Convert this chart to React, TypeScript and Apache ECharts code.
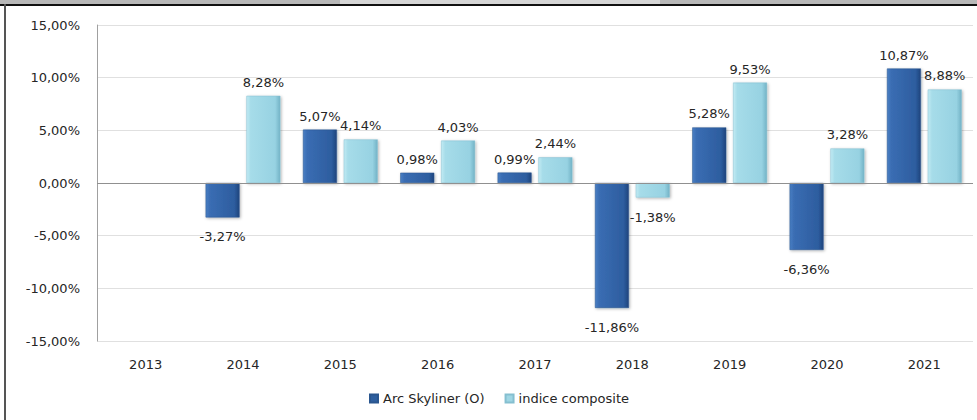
import React, { useEffect, useRef } from "react";
import * as echarts from "echarts";

const categories = ["2013", "2014", "2015", "2016", "2017", "2018", "2019", "2020", "2021"];
const arcSkyliner = [null, -3.27, 5.07, 0.98, 0.99, -11.86, 5.28, -6.36, 10.87];
const indiceComposite = [null, 8.28, 4.14, 4.03, 2.44, -1.38, 9.53, 3.28, 8.88];
const seriesNames = ["Arc Skyliner (O)", "indice composite"];

const FONT = "DejaVu Sans";
const fmt = (v: number) => v.toFixed(2).replace(".", ",") + "%";

const darkGrad = new echarts.graphic.LinearGradient(0, 0, 1, 0, [
  { offset: 0, color: "#4a7fc4" },
  { offset: 0.12, color: "#3a6db3" },
  { offset: 0.85, color: "#2d5d9f" },
  { offset: 1, color: "#1e447c" },
]);
const lightGrad = new echarts.graphic.LinearGradient(0, 0, 1, 0, [
  { offset: 0, color: "#c2ebf3" },
  { offset: 0.12, color: "#a6dce9" },
  { offset: 0.85, color: "#97d2e2" },
  { offset: 1, color: "#73b3c6" },
]);

const toItems = (arr: (number | null)[]) =>
  arr.map((v) =>
    v === null ? null : v < 0 ? { value: v, label: { distance: 13 } } : { value: v }
  );

export default function App() {
  const ref = useRef<HTMLDivElement>(null);
  useEffect(() => {
    const chart = echarts.init(ref.current!, undefined, { renderer: "svg" });
    const label = {
      show: true,
      position: "outside" as any,
      fontFamily: FONT,
      fontSize: 13,
      color: "#262626",
      distance: 7,
      formatter: (p: any) => fmt(p.value),
    };
    chart.setOption({
      animation: false,
      backgroundColor: "#ffffff",
      textStyle: { fontFamily: FONT },
      grid: { left: 97, right: 4, top: 25, bottom: 79 },
      legend: {
        bottom: 10,
        left: 364,
        icon: "rect",
        itemWidth: 8,
        itemHeight: 8,
        itemGap: 20,
        textStyle: { fontFamily: FONT, fontSize: 13, color: "#262626" },
        data: [
          { name: seriesNames[0], itemStyle: { color: "#2e5f9f" } },
          { name: seriesNames[1], itemStyle: { color: "#9fd6e4" } },
        ],
      },
      xAxis: {
        type: "category",
        data: categories,
        axisLine: { show: false },
        axisTick: { show: false },
        axisLabel: { fontFamily: FONT, fontSize: 13, color: "#262626", margin: 17 },
      },
      yAxis: {
        type: "value",
        min: -15,
        max: 15,
        interval: 5,
        axisLine: { show: true, lineStyle: { color: "#a0a0a0" } },
        axisTick: { show: false },
        splitLine: { lineStyle: { color: "#e0e0e0" } },
        axisLabel: {
          fontFamily: FONT,
          fontSize: 13,
          color: "#262626",
          margin: 17,
          formatter: (v: number) => fmt(v),
        },
      },
      series: [
        {
          name: seriesNames[0],
          type: "bar",
          data: toItems(arcSkyliner),
          barWidth: 34,
          barGap: "20%",
          itemStyle: { color: darkGrad, borderColor: "#2a568f", borderWidth: 0.5, shadowColor: "rgba(0,0,0,0.3)", shadowBlur: 3, shadowOffsetX: 1, shadowOffsetY: 1 },
          label,
          markLine: {
            silent: true,
            symbol: "none",
            label: { show: false },
            lineStyle: { color: "#909090", type: "solid", width: 1 },
            data: [{ yAxis: 0 }],
          },
        },
        {
          name: seriesNames[1],
          type: "bar",
          data: toItems(indiceComposite),
          barWidth: 34,
          itemStyle: { color: lightGrad, borderColor: "#85bfd0", borderWidth: 0.5, shadowColor: "rgba(0,0,0,0.3)", shadowBlur: 3, shadowOffsetX: 1, shadowOffsetY: 1 },
          label,
        },
      ],
      graphic: [
        { type: "rect", left: 0, top: 0, shape: { width: 977, height: 4 }, style: { fill: "#b8b8b8" }, z: 100 },
        { type: "rect", left: 340, top: 0, shape: { width: 320, height: 4 }, style: { fill: "#d6d6d6" }, z: 101 },
        { type: "rect", left: 0, top: 4, shape: { width: 977, height: 2 }, style: { fill: "#111111" }, z: 102 },
        { type: "rect", left: 4, top: 4, shape: { width: 2, height: 416 }, style: { fill: "#555555" }, z: 102 },
      ],
    });
    return () => chart.dispose();
  }, []);
  return (
    <div
      ref={ref}
      style={{ position: "fixed", left: 0, top: 0, width: 977, height: 420 }}
    />
  );
}
